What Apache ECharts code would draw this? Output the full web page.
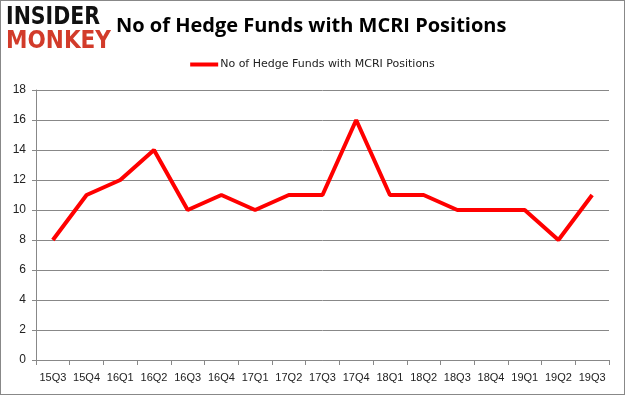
<!DOCTYPE html>
<html><head><meta charset="utf-8">
<script src="https://cdn.jsdelivr.net/npm/echarts@6/dist/echarts.min.js"></script>
<style>html,body{margin:0;padding:0;background:#fff}#c{width:625px;height:395px;box-sizing:border-box;border:1px solid #888}</style>
</head><body><div id="c"></div>
<script>
const categories = ["15Q3","15Q4","16Q1","16Q2","16Q3","16Q4","17Q1","17Q2","17Q3","17Q4","18Q1","18Q2","18Q3","18Q4","19Q1","19Q2","19Q3"];
const hedgeFunds = [8,11,12,14,10,11,10,11,11,16,11,11,10,10,10,8,11];
const seriesName = "No of Hedge Funds with MCRI Positions";
const chart = echarts.init(document.getElementById('c'));
chart.setOption({
  animation:false,
  graphic:[
    {type:'text',x:5,y:4,scaleX:0.76,scaleY:0.95,style:{text:'INSIDER',font:'900 27px "DejaVu Sans", sans-serif',fill:'#111'}},
    {type:'text',x:5,y:28,scaleX:0.83,scaleY:0.95,style:{text:'MONKEY',font:'900 26px "DejaVu Sans", sans-serif',fill:'#d23b2a'}},
    {type:'text',left:115,top:15,style:{text:'No of Hedge Funds with MCRI Positions',font:'bold 20px "Open Sans", "DejaVu Sans", sans-serif',fill:'#000'}}
  ],
  legend:{top:53,left:'center',itemWidth:28,itemHeight:4,icon:'rect',itemGap:4,
    textStyle:{fontSize:11,color:'#222',fontFamily:'"DejaVu Sans", sans-serif',padding:[0,0,0,-3]},data:[seriesName]},
  grid:{left:35,right:15,top:89,bottom:34,containLabel:false},
  xAxis:{type:'category',data:categories,boundaryGap:true,
    axisLine:{lineStyle:{color:'#888'}},axisTick:{show:true,lineStyle:{color:'#888'}},
    axisLabel:{fontSize:11,color:'#222',margin:12,interval:0,fontFamily:'"Liberation Sans", sans-serif'}},
  yAxis:{type:'value',min:0,max:18,interval:2,
    axisLine:{show:true,lineStyle:{color:'#888'}},axisTick:{show:true,length:4,inside:false,lineStyle:{color:'#888'}},
    splitLine:{lineStyle:{color:'#888'}},
    axisLabel:{fontSize:12,color:'#222',margin:10,fontFamily:'"Liberation Sans", sans-serif'}},
  series:[{name:seriesName,type:'line',data:hedgeFunds,symbol:'none',
    lineStyle:{color:'#ff0000',width:4},itemStyle:{color:'#ff0000'}}]
});
</script></body></html>
